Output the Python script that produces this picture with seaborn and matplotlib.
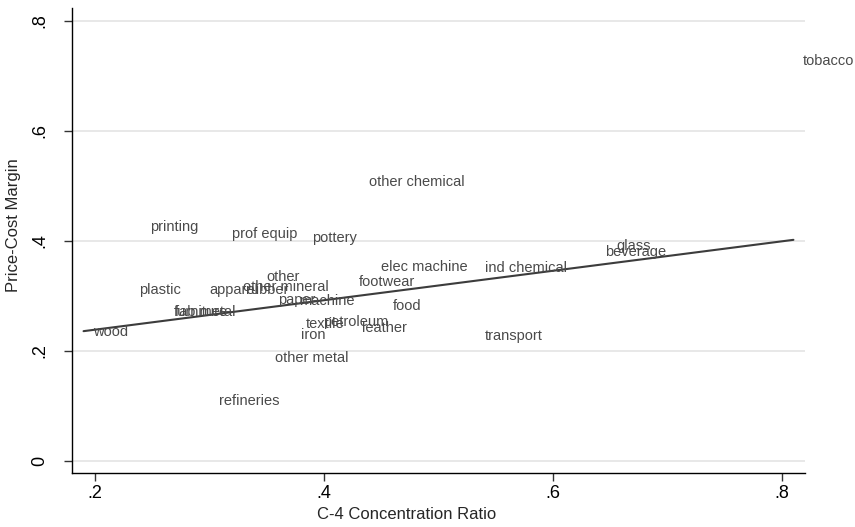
import matplotlib
matplotlib.use("Agg")
import matplotlib.pyplot as plt
import seaborn as sns
import pandas as pd

industries = ["tobacco", "other chemical", "printing", "prof equip", "pottery",
              "glass", "beverage", "elec machine", "ind chemical", "other",
              "footwear", "plastic", "apparel", "rubber", "other mineral",
              "paper", "machine", "food", "furniture", "fab metal", "wood",
              "textile", "petroleum", "leather", "iron", "transport",
              "other metal", "refineries"]
conc_ratio = [0.810, 0.431, 0.240, 0.311, 0.381,
              0.647, 0.637, 0.441, 0.532, 0.341,
              0.422, 0.230, 0.291, 0.323, 0.321,
              0.351, 0.370, 0.452, 0.260, 0.261, 0.190,
              0.376, 0.391, 0.425, 0.371, 0.532,
              0.349, 0.300]
pcm = [0.727, 0.507, 0.425, 0.413, 0.405,
       0.391, 0.380, 0.353, 0.351, 0.335,
       0.325, 0.311, 0.311, 0.311, 0.316,
       0.293, 0.291, 0.282, 0.271, 0.271, 0.235,
       0.249, 0.253, 0.242, 0.229, 0.227,
       0.187, 0.109]

# fitted line values at the ends of the concentration range
fit_cr4 = [0.190, 0.810]
fit_pcm = [0.236, 0.402]

x_ticks = [0.2, 0.4, 0.6, 0.8]
x_ticklabels = [".2", ".4", ".6", ".8"]
y_ticks = [0.0, 0.2, 0.4, 0.6, 0.8]
y_ticklabels = ["0", ".2", ".4", ".6", ".8"]

df = pd.DataFrame({"industry": industries, "cr4": conc_ratio, "pcm": pcm})
fit = pd.DataFrame({"cr4": fit_cr4, "pcm": fit_pcm})

sns.set_theme(style="white")
plt.rcParams["font.family"] = ["Liberation Sans", "DejaVu Sans"]

fig = plt.figure(figsize=(8.55, 5.27), dpi=100)
ax = fig.add_axes([0.0842, 0.1025, 0.8573, 0.8825])

# horizontal grid at the y ticks
for yv in y_ticks:
    ax.axhline(yv, color="#e6e6e6", lw=1.3, zorder=0)

# fitted line
sns.lineplot(data=fit, x="cr4", y="pcm", color="#3c3c3c", lw=1.5, ax=ax)

# industry names placed just right of each observation
for name, xv, yv in zip(df["industry"], df["cr4"], df["pcm"]):
    ax.annotate(name, (xv, yv), xytext=(7, 0), textcoords="offset points",
                ha="left", va="center", fontsize=10.5, color="#4a4a4a",
                annotation_clip=False)

ax.set_xlim(0.1799, 0.8201)
ax.set_ylim(-0.0218, 0.8236)
ax.set_xticks(x_ticks)
ax.set_xticklabels(x_ticklabels, fontsize=13)
ax.set_yticks(y_ticks)
ax.set_yticklabels(y_ticklabels, fontsize=13, rotation=90, va="center")
ax.set_xlabel("C-4 Concentration Ratio", fontsize=12)
ax.set_ylabel("Price-Cost Margin", fontsize=12)
ax.xaxis.set_label_coords(0.457, -0.073)
ax.yaxis.set_label_coords(-0.0696, 0.533)

for side in ["top", "right"]:
    ax.spines[side].set_visible(False)
for side in ["left", "bottom"]:
    ax.spines[side].set_color("black")
    ax.spines[side].set_linewidth(1.0)
ax.tick_params(axis="both", direction="out", length=6, width=1.0,
               color="#333333", bottom=True, left=True, labelcolor="black")
ax.tick_params(axis="x", pad=2.6)
ax.tick_params(axis="y", pad=11)

fig.savefig("out.png", dpi=100)
